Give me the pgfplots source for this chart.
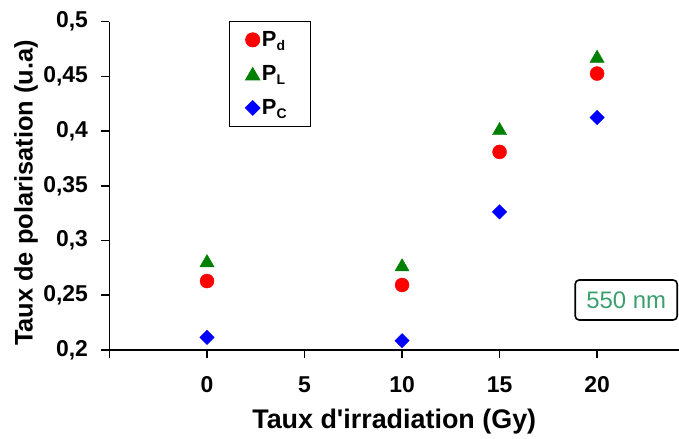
\documentclass[border=0pt]{standalone}
\usepackage{fontspec}
\setmainfont{Liberation Sans}
\usepackage{pgfplots}
\pgfplotsset{compat=1.18}
\definecolor{mred}{RGB}{255,0,0}
\definecolor{mgreen}{RGB}{0,128,0}
\definecolor{mblue}{RGB}{0,0,255}
\definecolor{nmgreen}{RGB}{60,160,110}
\newcommand{\lsub}[1]{\raisebox{-0.35ex}{\fontsize{14}{14}\selectfont #1}}
\begin{document}
\begin{tikzpicture}
\begin{axis}[name=ax, scale only axis, width=569.5bp, height=328.3bp,
  xmin=-5, xmax=24.2, ymin=0.2, ymax=0.5,
  axis x line*=bottom, axis y line*=left,
  axis line style={line width=1.6bp, -},
  xtick={-5,0,5,10,15,20}, xticklabels={,0,5,10,15,20},
  ytick={0.2,0.25,0.3,0.35,0.4,0.45,0.5},
  yticklabels={{0,2},{0,25},{0,3},{0,35},{0,4},{0,45},{0,5}},
  tick align=outside, major tick length=8bp,
  tick style={line width=1.6bp, black},
  tick label style={font=\bfseries\fontsize{23}{26}\selectfont},
  yticklabel style={xshift=-10bp},
  xticklabel style={yshift=-15bp},
  xlabel={Taux d\textquotesingle irradiation (Gy)},
  ylabel={Taux de polarisation (u.a)},
  every axis x label/.style={at={(axis description cs:0.5,-0.219)}, anchor=center,
    font=\bfseries\fontsize{27}{30}\selectfont},
  every axis y label/.style={at={(axis description cs:-0.1466,0.478)}, rotate=90, anchor=center,
    font=\bfseries\fontsize{25.5}{28}\selectfont},
  legend style={at={(0.2098,1.002)}, anchor=north west, draw=black, line width=1bp, fill=white,
    font=\bfseries\fontsize{22}{24}\selectfont, row sep=13.5bp, inner xsep=16bp, inner ysep=8bp},
  legend cell align=left,
  legend image code/.code={\draw[mark repeat=2,mark phase=2,#1] plot coordinates {(0bp,0bp)(7bp,0bp)(14bp,0bp)};},
]
\addplot[only marks, mark=*, mark size=7bp, color=mred] coordinates {(0,0.263)(10,0.2594)(15,0.381)(20,0.4526)};
\addlegendentry{P\lsub{d}\hspace*{6bp}}
\addplot[only marks, mark=triangle*, mark size=8.2bp, color=mgreen, mark options={yshift=-2bp}] coordinates {(0,0.2816)(10,0.2778)(15,0.4023)(20,0.4684)};
\addlegendentry{P\lsub{L}\hspace*{6bp}}
\addplot[only marks, mark=square*, mark size=5.1bp, color=mblue, mark options={rotate=45}] coordinates {(0,0.2116)(10,0.2085)(15,0.3262)(20,0.4124)};
\addlegendentry{P\lsub{C}\hspace*{6bp}}
\node[draw=black, line width=1.6bp, rounded corners=4bp, minimum width=102bp, minimum height=40bp,
  text=nmgreen, font=\fontsize{24}{27}\selectfont, inner sep=0pt] at (axis description cs:0.9073,0.1523) {550 nm};
\end{axis}
\pgfresetboundingbox
\path[use as bounding box] ([shift={(-109.5bp,-89bp)}]ax.south west) rectangle ([shift={(0bp,21.7bp)}]ax.north east);
\end{tikzpicture}
\end{document}
